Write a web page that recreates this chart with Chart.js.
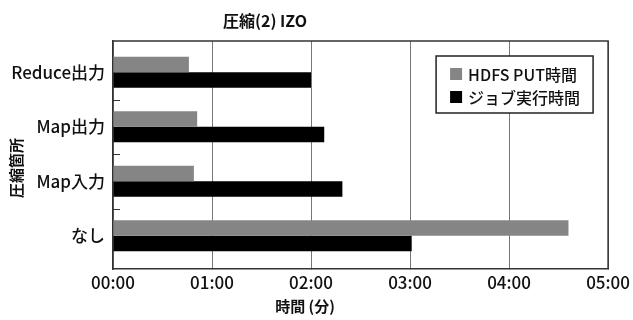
<!DOCTYPE html>
<html>
<head>
<meta charset="utf-8">
<script src="https://cdn.jsdelivr.net/npm/chart.js@4/dist/chart.umd.min.js"></script>
<style>
  html, body { margin: 0; padding: 0; background: #fff; }
  #wrap { width: 633px; height: 320px; position: relative; }
</style>
</head>
<body>
<div id="wrap"><canvas id="c" width="633" height="320"></canvas></div>
<script>
// Compression point comparison, times in seconds
const categories = ['Reduce出力', 'Map出力', 'Map入力', 'なし'];
const hdfsPutSeconds = [46, 51, 49, 276];
const jobRunSeconds = [120, 128, 139, 181];
const seriesNames = ['HDFS PUT時間', 'ジョブ実行時間'];
const seriesColors = ['#858585', '#000000'];
const titleText = '圧縮(2) IZO';
const xTitle = '時間 (分)';
const yTitle = '圧縮箇所';

const FONT = '"Noto Sans CJK JP", "Noto Sans", sans-serif';

function mmss(v) {
  const m = Math.floor(v / 60), s = Math.round(v % 60);
  return String(m).padStart(2, '0') + ':' + String(s).padStart(2, '0');
}

// Leave a little inner margin above and below the category bands
const bandInset = {
  id: 'bandInset',
  afterLayout(chart) {
    const ys = chart.scales.y;
    const start = ys.top + 4;
    const end = ys.bottom - 6;
    ys._startPixel = start;
    ys._endPixel = end;
    ys._length = end - start;
  }
};

// Titles, inner legend box and the short category separator ticks
const decor = {
  id: 'decor',
  afterDraw(chart) {
    const ctx = chart.ctx;
    const ca = chart.chartArea;
    ctx.save();
    ctx.fillStyle = '#111';
    ctx.textAlign = 'center';
    ctx.textBaseline = 'middle';

    // chart title
    ctx.font = 'bold 16px ' + FONT;
    ctx.fillText(titleText, 265, 21);

    // x axis title
    ctx.font = 'bold 15px ' + FONT;
    ctx.fillText(xTitle, 305, 306);

    // y axis title (rotated)
    ctx.save();
    ctx.translate(16, 168);
    ctx.rotate(-Math.PI / 2);
    ctx.font = 'bold 15px ' + FONT;
    ctx.fillText(yTitle, 0, 0);
    ctx.restore();

    // category separators on the y axis
    const ys = chart.scales.y;
    ctx.strokeStyle = '#333';
    ctx.lineWidth = 1;
    for (let i = 1; i < categories.length; i++) {
      const y = Math.round((ys.getPixelForTick(i - 1) + ys.getPixelForTick(i)) / 2) + 0.5;
      ctx.beginPath();
      ctx.moveTo(ca.left, y);
      ctx.lineTo(ca.left + 7, y);
      ctx.stroke();
    }

    // legend
    const bx = ca.right - 172, by = ca.top + 15, bw = 157, bh = 57;
    ctx.fillStyle = '#fff';
    ctx.fillRect(bx, by, bw, bh);
    ctx.strokeStyle = '#222';
    ctx.lineWidth = 1.5;
    ctx.strokeRect(bx, by, bw, bh);
    ctx.font = '500 16px ' + FONT;
    ctx.textAlign = 'left';
    chart.data.datasets.forEach((ds, i) => {
      const cy = by + 18 + i * 23;
      ctx.fillStyle = ds.backgroundColor;
      ctx.fillRect(bx + 14, cy - 6, 12, 12);
      ctx.fillStyle = '#111';
      ctx.fillText(ds.label, bx + 32, cy + 1);
    });
    ctx.restore();
  }
};

new Chart(document.getElementById('c'), {
  type: 'bar',
  data: {
    labels: categories,
    datasets: [
      { label: seriesNames[0], data: hdfsPutSeconds, backgroundColor: seriesColors[0] },
      { label: seriesNames[1], data: jobRunSeconds, backgroundColor: seriesColors[1] }
    ]
  },
  options: {
    indexAxis: 'y',
    responsive: false,
    animation: false,
    layout: { padding: { top: 41, right: 23, left: 0, bottom: 0 } },
    datasets: { bar: { categoryPercentage: 0.57, barPercentage: 1.0 } },
    plugins: { legend: { display: false }, title: { display: false }, tooltip: { enabled: false } },
    scales: {
      x: {
        type: 'linear',
        min: 0, max: 300,
        ticks: { stepSize: 60, callback: v => mmss(v), color: '#111', font: { family: FONT, size: 17, weight: 500 }, padding: 3, maxRotation: 0 },
        grid: { color: '#777', lineWidth: 1, drawTicks: true, tickLength: 0 },
        border: { color: '#333', width: 1.5 },
        afterFit(s) { s.height = 51; }
      },
      y: {
        ticks: { color: '#111', font: { family: FONT, size: 17, weight: 500 }, padding: 0 },
        grid: { display: false },
        border: { color: '#333', width: 1.5 },
        afterFit(s) { s.width = 113; }
      }
    }
  },
  plugins: [bandInset, decor, {
    id: 'frame',
    afterDatasetsDraw(chart) {
      const ca = chart.chartArea, ctx = chart.ctx;
      ctx.save();
      ctx.strokeStyle = '#333';
      ctx.lineWidth = 1.5;
      ctx.beginPath();
      ctx.moveTo(ca.left, ca.top); ctx.lineTo(ca.right, ca.top); ctx.lineTo(ca.right, ca.bottom);
      ctx.stroke();
      ctx.restore();
    }
  }]
});
</script>
</body>
</html>
